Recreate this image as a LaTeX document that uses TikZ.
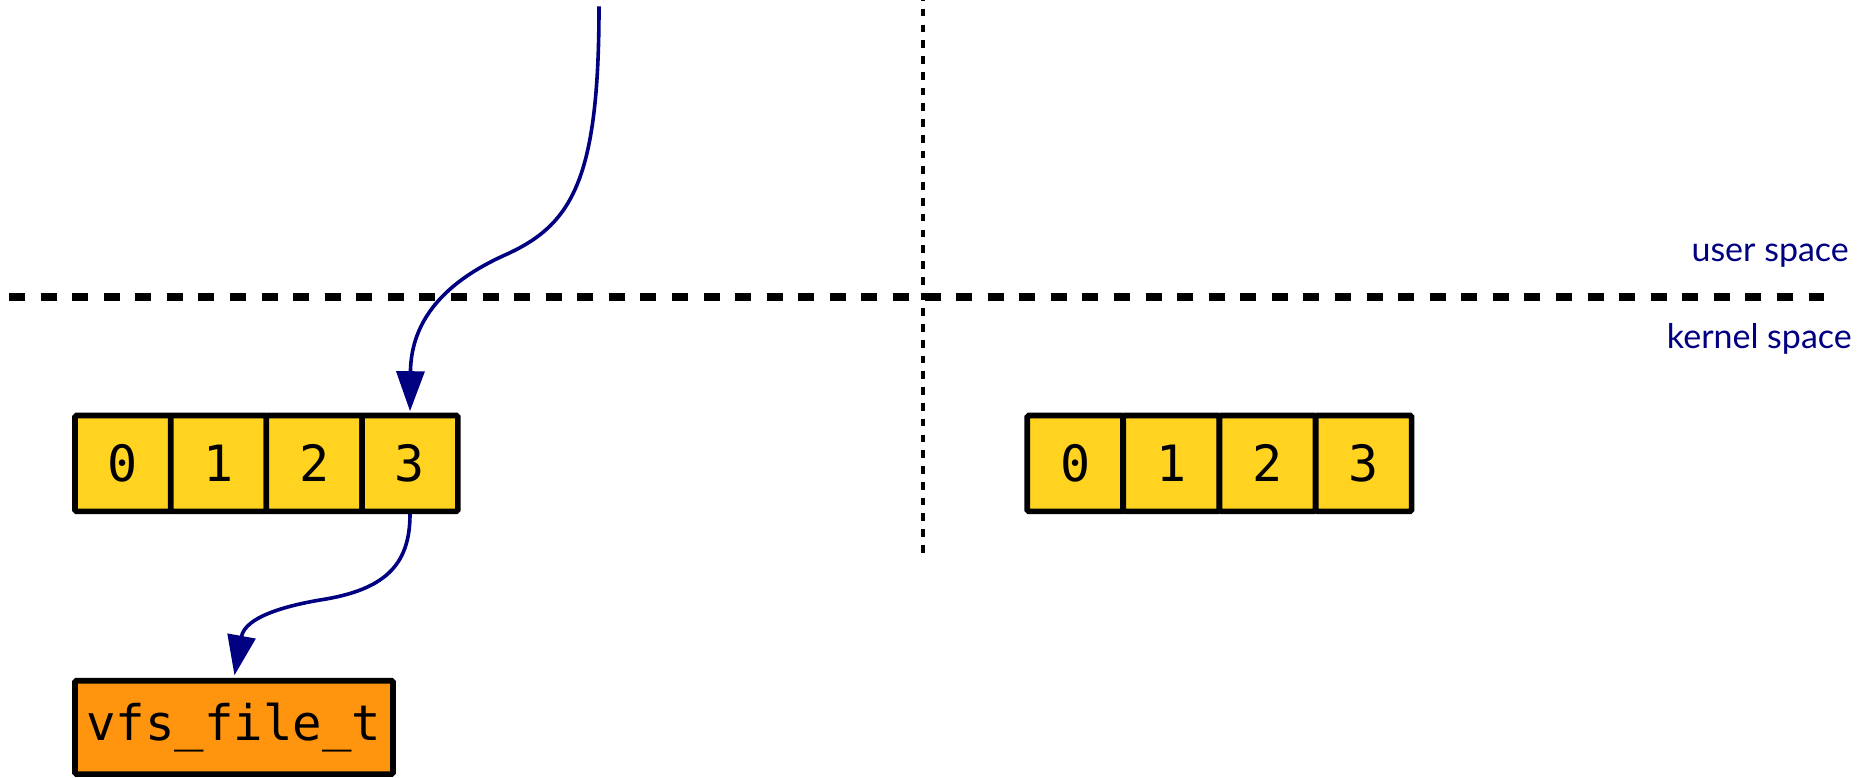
\documentclass[tikz,border=0pt]{standalone}
\usepackage{fontspec}
\usetikzlibrary{arrows.meta}
\newfontfamily\monofont{DejaVu Sans Mono}
\newfontfamily\labelfont{Lato}
\definecolor{cellyellow}{HTML}{FFD320}
\definecolor{fileorange}{HTML}{FF950E}
\definecolor{arrownavy}{HTML}{000080}
\begin{document}
\begin{tikzpicture}[x=1pt,y=-1pt,
  cellbox/.style={draw=black, line width=5.6pt, fill=cellyellow, rounded corners=1.5pt,
    minimum width=95.8pt, minimum height=95.8pt, inner sep=0pt,
    font=\monofont\fontsize{50}{60}\selectfont},
  filebox/.style={draw=black, line width=5.6pt, fill=fileorange, rounded corners=1.5pt,
    minimum width=318pt, minimum height=93.4pt, inner sep=0pt,
    font=\monofont\fontsize{49}{60}\selectfont},
  conn/.style={draw=arrownavy, line width=3.6pt, -{Triangle[length=40pt,width=28pt]}},
  spacelabel/.style={text=arrownavy, font=\labelfont\fontsize{34}{40}\selectfont,
    anchor=base east, inner sep=0pt},
  boundary/.style={line width=7.5pt, dash pattern=on 16pt off 15.57pt},
  divider/.style={line width=4pt, dash pattern=on 7.7pt off 8.07pt}]
\useasboundingbox (0,0) rectangle (1860,778);
% user / kernel boundary
\draw[boundary] (9,296.8) -- (1824,296.8);
% vertical separator
\draw[divider] (922.7,-7) -- (922.7,552.7);
% labels
\node[spacelabel] (user) at (1849,261.7) {user space};
\node[spacelabel] (kernel) at (1852,348.3) {kernel space};
% left fd table
\node[cellbox] (L0) at (122.9,463.4) {0};
\node[cellbox] (L1) at (218.6,463.4) {1};
\node[cellbox] (L2) at (314.3,463.4) {2};
\node[cellbox] (L3) at (410.0,463.4) {3};
% right fd table
\node[cellbox] (R0) at (1075.1,463.4) {0};
\node[cellbox] (R1) at (1171.3,463.4) {1};
\node[cellbox] (R2) at (1267.5,463.4) {2};
\node[cellbox] (R3) at (1363.7,463.4) {3};
% file object
\node[filebox] (vfs) at (234,727.4) {vfs\_file\_t};
% connectors
\coordinate (src) at (599,6.5);
\draw[conn, shorten >=1.5pt] (src) .. controls (599,180) and (572,225) .. (505,255)
  .. controls (445,282) and (411,320) .. (L3.north);
\draw[conn, shorten >=2.6pt] (L3.south) .. controls (410,565) and (385,590) .. (320,600)
  .. controls (285,606) and (245,617) .. (vfs.north);
\end{tikzpicture}
\end{document}
